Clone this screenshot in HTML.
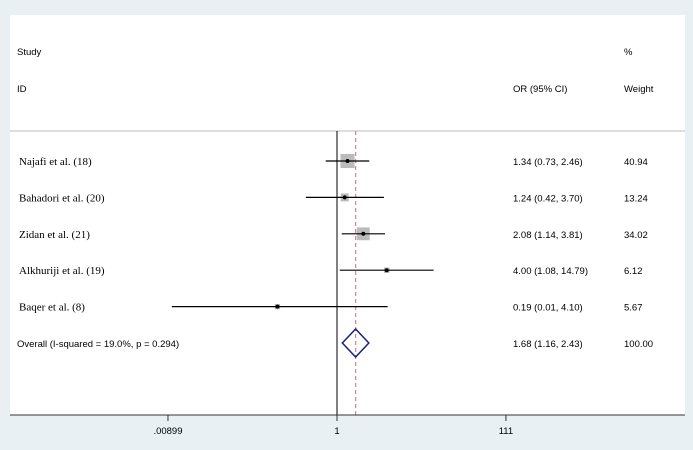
<!DOCTYPE html>
<html><head><meta charset="utf-8"><style>
body{margin:0;background:#e8f0f3;width:693px;height:450px;overflow:hidden}
svg{display:block}
.s{font-family:"Liberation Sans",sans-serif;font-size:9.5px;fill:#000}
.r{font-family:"Liberation Serif",serif;font-size:11px;fill:#000}
</style></head><body>
<svg id="c" width="693" height="450">
<rect x="10" y="15" width="675" height="400" fill="#fff"/>
<line x1="10" y1="131" x2="685" y2="131" stroke="#bbb"/>
<text class="s" x="17" y="55">Study</text>
<text class="s" x="17" y="92">ID</text>
<text class="s" x="513" y="92">OR (95% CI)</text>
<text class="s" x="624" y="55">%</text>
<text class="s" x="624" y="92">Weight</text>
<g id="g"></g>
</svg>
<script>
const studies=["Najafi et al. (18)","Bahadori et al. (20)","Zidan et al. (21)","Alkhuriji et al. (19)","Baqer et al. (8)"];
const ors=[1.34,1.24,2.08,4.00,0.19];
const lows=[0.73,0.42,1.14,1.08,0.01];
const highs=[2.46,3.70,3.81,14.79,4.10];
const weights=[40.94,13.24,34.02,6.12,5.67];
const pooled=[1.68,1.16,2.43];
const overallLabel="Overall  (I-squared = 19.0%, p = 0.294)";
const ticks=[0.00899,1,111];
const tickLabels=[".00899","1","111"];
const NS="http://www.w3.org/2000/svg";
const g=document.getElementById('g');
const x=v=>337+Math.log10(v)*82.6;
const rowY=i=>161+i*36.4;
function mk(t,a,p){const e=document.createElementNS(NS,t);for(const k in a)e.setAttribute(k,a[k]);(p||g).appendChild(e);return e;}
let e;
e=mk('line',{x1:x(1),y1:131,x2:x(1),y2:415,stroke:'#000'});


e=mk('line',{x1:x(pooled[0]),y1:131,x2:x(pooled[0]),y2:415,stroke:'#d4899a','stroke-width':1.3,'stroke-dasharray':'4,3'});


studies.forEach((s,i)=>{
 const y=rowY(i);
 e=mk('text',{x:19,y:y+4,class:'r'});e.textContent=s;
 
 
 const side=2.2*Math.sqrt(weights[i]);
 e=mk('rect',{x:x(ors[i])-side/2,y:y-side/2,width:side,height:side,fill:'#bbb'});
 
 
 e=mk('line',{x1:x(lows[i]),y1:y,x2:x(highs[i]),y2:y,stroke:'#000','stroke-width':1.2});
 
 
 e=mk('circle',{cx:x(ors[i]),cy:y,r:2,fill:'#000'});
 
 
 e=mk('text',{x:513,y:y+4,class:'s'});e.textContent=ors[i].toFixed(2)+" ("+lows[i].toFixed(2)+", "+highs[i].toFixed(2)+")";
 
 
 e=mk('text',{x:624,y:y+4,class:'s'});e.textContent=weights[i].toFixed(2);
 
 
});
const oy=rowY(5);
e=mk('text',{x:17,y:oy+4,class:'s'});e.textContent=overallLabel;


e=mk('polygon',{points:`${x(pooled[1])},${oy} ${x(pooled[0])},${oy-14} ${x(pooled[2])},${oy} ${x(pooled[0])},${oy+14}`,fill:'none',stroke:'#1a237e','stroke-width':1.5});


e=mk('text',{x:513,y:oy+4,class:'s'});e.textContent=pooled[0].toFixed(2)+" ("+pooled[1].toFixed(2)+", "+pooled[2].toFixed(2)+")";


e=mk('text',{x:624,y:oy+4,class:'s'});e.textContent="100.00";


e=mk('line',{x1:10,y1:415,x2:685,y2:415,stroke:'#333'});


ticks.forEach((t,i)=>{
 e=mk('line',{x1:x(t),y1:415,x2:x(t),y2:421,stroke:'#333'});
 
 
 e=mk('text',{x:x(t),y:434,class:'s','text-anchor':'middle'});e.textContent=tickLabels[i];
 
 
});
</script>
</body></html>
